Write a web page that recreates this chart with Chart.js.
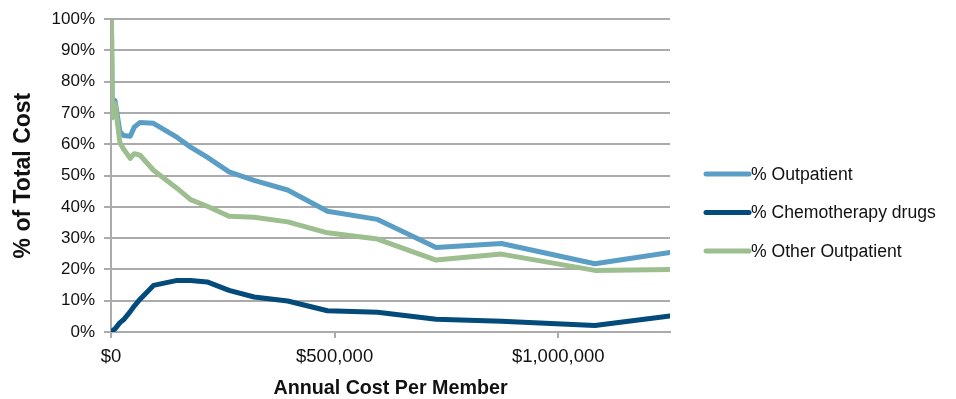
<!DOCTYPE html>
<html>
<head>
<meta charset="utf-8">
<script src="https://cdn.jsdelivr.net/npm/chart.js@4/dist/chart.umd.min.js"></script>
<style>
  html, body { margin: 0; padding: 0; background: #ffffff; }
  #wrap { position: relative; width: 956px; height: 399px; }
</style>
</head>
<body>
<div id="wrap"><canvas id="c" width="956" height="399"></canvas></div>
<script>
// Annual cost per member (x) and % of total cost (y)
const costs      = [1000, 3000, 9000, 20000, 28000, 43000, 52000, 65000, 95000, 148000, 178000, 215000, 264000, 320000, 395000, 484000, 596000, 727000, 873000, 1082000, 1250000];
const outpatient = [100, 69, 74, 64, 62.8, 62.6, 65.5, 67, 66.7, 62.2, 59.1, 55.9, 51.2, 48.5, 45.4, 38.6, 36.0, 27.0, 28.3, 21.8, 25.4];
const chemo      = [0.2, 0.4, 1.0, 3.0, 3.9, 6.5, 8.3, 10.5, 14.9, 16.5, 16.5, 16.0, 13.3, 11.2, 9.9, 6.8, 6.3, 4.1, 3.4, 2.1, 5.1];
const otherOut   = [100, 68.5, 73, 60.5, 58.5, 55.5, 57, 56.5, 51.7, 45.9, 42.3, 40.2, 37.0, 36.7, 35.2, 31.7, 29.7, 23.0, 24.9, 19.7, 20.0];
const seriesNames = ['% Outpatient', '% Chemotherapy drugs', '% Other Outpatient'];
const xTickValues = [0, 500000, 1000000];
const yTickStep = 10;

const colors = ['#5A9EC5', '#034B7A', '#9DBE8E'];
const FONT = '"Liberation Sans", Arial, Helvetica, sans-serif';

function pts(ys) { return costs.map((x, i) => ({ x: x, y: ys[i] })); }

const legendPlugin = {
  id: 'customLegend',
  afterDraw(chart) {
    const ctx = chart.ctx;
    const ys = [174, 212.5, 251];
    ctx.save();
    chart.data.datasets.forEach((ds, i) => {
      const y = ys[i];
      ctx.strokeStyle = ds.borderColor;
      ctx.lineWidth = 5;
      ctx.lineCap = 'round';
      ctx.beginPath();
      ctx.moveTo(706, y);
      ctx.lineTo(749, y);
      ctx.stroke();
      ctx.fillStyle = '#111111';
      ctx.font = '17.6px ' + FONT;
      ctx.textAlign = 'left';
      ctx.textBaseline = 'middle';
      ctx.fillText(ds.label, 751, y + 1);
    });
    ctx.restore();
  }
};

new Chart(document.getElementById('c'), {
  type: 'scatter',
  data: {
    datasets: [
      { label: seriesNames[0], data: pts(outpatient), borderColor: colors[0], backgroundColor: colors[0], order: 2 },
      { label: seriesNames[1], data: pts(chemo), borderColor: colors[1], backgroundColor: colors[1], order: 1 },
      { label: seriesNames[2], data: pts(otherOut), borderColor: colors[2], backgroundColor: colors[2], order: 0 }
    ]
  },
  options: {
    responsive: false,
    animation: false,
    devicePixelRatio: 1,
    showLine: true,
    elements: {
      point: { radius: 0, hoverRadius: 0 },
      line: { borderWidth: 5, tension: 0, borderJoinStyle: 'round', borderCapStyle: 'round', fill: false }
    },
    layout: { padding: { top: 17, right: 286, left: 0, bottom: 0 } },
    plugins: {
      legend: { display: false },
      tooltip: { enabled: false }
    },
    scales: {
      x: {
        type: 'linear',
        min: 0,
        max: 1250000,
        afterFit: (s) => { s.height = 67; },
        afterBuildTicks: (s) => { s.ticks = xTickValues.map(v => ({ value: v })); },
        grid: { drawOnChartArea: false, drawTicks: true, tickLength: 6, color: '#ABABAB', lineWidth: 2 },
        border: { display: true, color: '#ABABAB', width: 2 },
        ticks: {
          padding: 8,
          maxRotation: 0,
          color: '#111111',
          font: { family: FONT, size: 18.5 },
          callback: (v) => '$' + Number(v).toLocaleString('en-US')
        },
        title: {
          display: true,
          text: 'Annual Cost Per Member',
          color: '#111111',
          font: { family: FONT, size: 19.7, weight: 'bold', lineHeight: 1.2 },
          padding: { top: 0, bottom: -1 }
        }
      },
      y: {
        min: 0,
        max: 100,
        afterFit: (s) => { s.width = 111; },
        grid: { drawTicks: true, tickLength: 7, color: '#ABABAB', lineWidth: 2 },
        border: { display: true, color: '#ABABAB', width: 2 },
        ticks: {
          stepSize: yTickStep,
          padding: 9,
          color: '#111111',
          font: { family: FONT, size: 17 },
          callback: (v) => v + '%'
        },
        title: {
          display: true,
          text: '% of Total Cost',
          color: '#111111',
          font: { family: FONT, size: 23, weight: 'bold', lineHeight: 1.2 },
          padding: { top: 10, bottom: 0 }
        }
      }
    }
  },
  plugins: [legendPlugin]
});
</script>
</body>
</html>
